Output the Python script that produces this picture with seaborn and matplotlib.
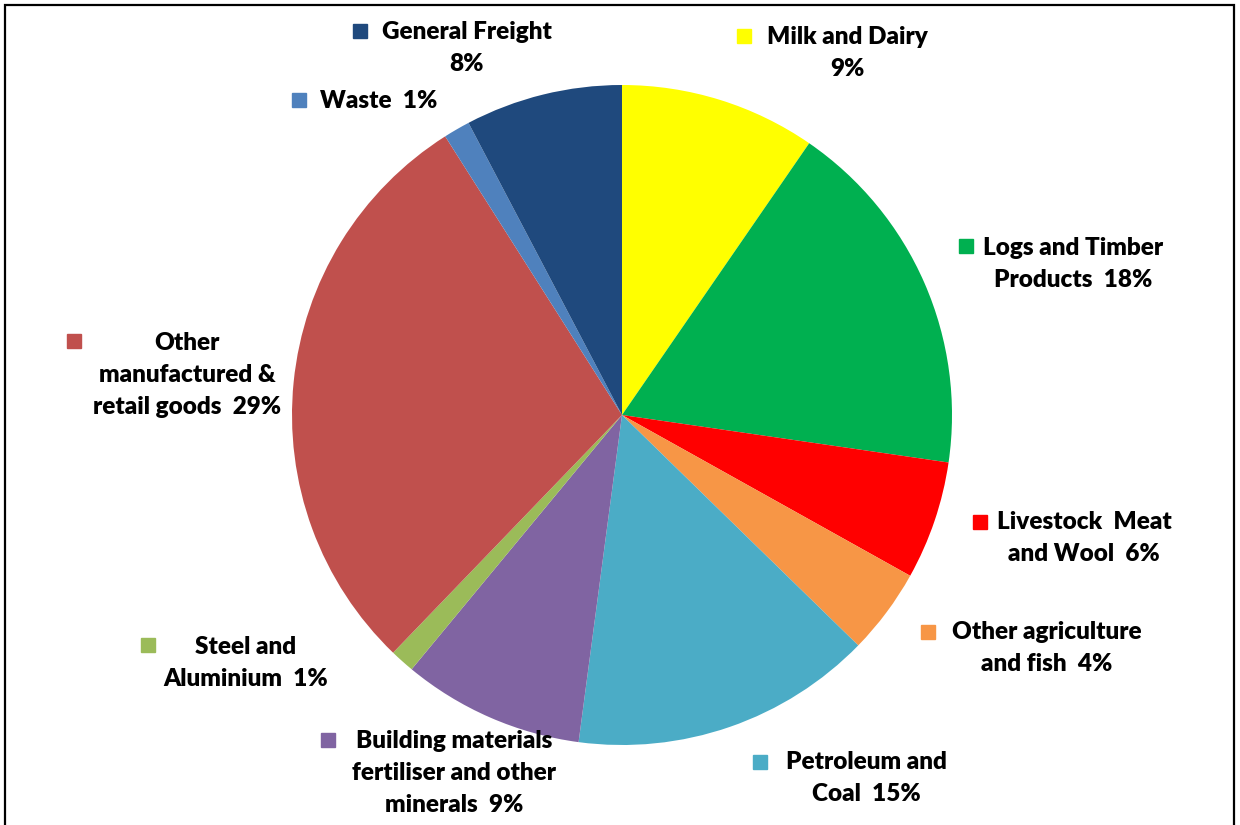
import matplotlib.pyplot as plt
import seaborn as sns

# Slice shares, clockwise from 12 o'clock
categories = ["Milk and Dairy", "Logs and Timber Products", "Livestock  Meat and Wool",
              "Other agriculture and fish", "Petroleum and Coal",
              "Building materials fertiliser and other minerals", "Steel and Aluminium",
              "Other manufactured & retail goods", "Waste", "General Freight"]
shares = [9.6, 17.7, 5.8, 4.2, 14.8, 8.9, 1.2, 28.8, 1.3, 7.7]
shown_pct = ["9%", "18%", "6%", "4%", "15%", "9%", "1%", "29%", "1%", "8%"]

# label text as printed (line breaks as in the picture)
label_lines = [
    ["Milk and Dairy", "9%"],
    ["Logs and Timber", "Products  18%"],
    ["Livestock  Meat", "and Wool  6%"],
    ["Other agriculture", "and fish  4%"],
    ["Petroleum and", "Coal  15%"],
    ["Building materials", "fertiliser and other", "minerals  9%"],
    ["Steel and", "Aluminium  1%"],
    ["Other", "manufactured &", "retail goods  29%"],
    ["Waste  1%"],
    ["General Freight", "8%"],
]

colors = sns.color_palette(["#FFFF00", "#00B050", "#FF0000", "#F79646", "#4BACC6",
                            "#8064A2", "#9BBB59", "#C0504D", "#4F81BD", "#1F497D"])

# layout in pixels (y measured from the top of the image)
W, H = 1240, 825
pie_cx, pie_cy, pie_r = 622, 415, 330
# (marker x, marker y, text center x, first line y)
label_pos = [
    (744, 36, 847, 37),
    (966, 246, 1073, 248),
    (980, 522, 1084, 522),
    (928, 632, 1047, 632),
    (760, 762, 866, 762),
    (328, 740, 454, 741),
    (148, 645, 246, 647),
    (74, 341, 187, 343),
    (299, 100, 379, 101),
    (360, 31, 467, 32),
]
line_gap = 32

sns.set_theme(style="white")
plt.rcParams["font.family"] = ["Lato", "DejaVu Sans"]

fig = plt.figure(figsize=(W / 100, H / 100), dpi=100)
ax = fig.add_axes([0, 0, 1, 1])

ax.pie(shares, colors=colors, startangle=90, counterclock=False,
       center=(pie_cx, H - pie_cy), radius=pie_r,
       wedgeprops=dict(linewidth=0))

ax.set_xlim(0, W)
ax.set_ylim(0, H)
ax.set_aspect("equal", adjustable="box")
ax.axis("off")

for lines, col, (mx, my, tx, ty) in zip(label_lines, colors, label_pos):
    ax.plot(mx, H - my, marker="s", markersize=10, color=col, linestyle="none")
    for i, line in enumerate(lines):
        ax.text(tx, H - (ty + i * line_gap), line, ha="center", va="center",
                fontsize=17.5, fontweight="heavy", color="black")

# outer frame (left, top, right)
ax.plot([5, 5, 1234, 1234], [0, H - 5, H - 5, 0], color="black", linewidth=1.6,
        solid_joinstyle="miter")

fig.savefig("out.png", dpi=100)
